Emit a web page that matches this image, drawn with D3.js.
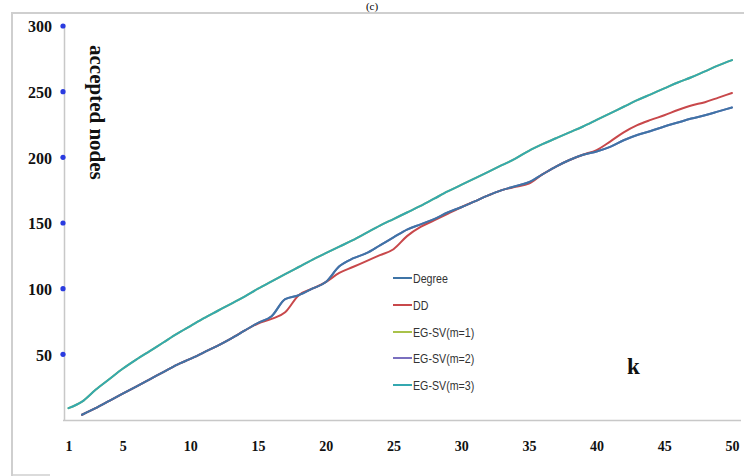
<!DOCTYPE html>
<html><head><meta charset="utf-8">
<script src="https://cdn.jsdelivr.net/npm/d3@7"></script>
<style>
html,body{margin:0;padding:0;background:#fff;}
svg{display:block;}
.tick line{display:none;}
</style></head>
<body><svg id="c" width="744" height="476"></svg>
<script>
const kValues = d3.range(1, 51);
const xTicks = [1, 5, 10, 15, 20, 25, 30, 35, 40, 45, 50];
const yTicks = [50, 100, 150, 200, 250, 300];
const seriesNames = ["Degree", "DD", "EG-SV(m=1)", "EG-SV(m=2)", "EG-SV(m=3)"];
const seriesColors = ["#3f74a6", "#c8484b", "#a9c24a", "#7a6fbf", "#34a8b0"];

// values for k = 1..50 (null = no point)
const degree = [null, 4, 9, 14.5, 20, 25.5, 31, 36.5, 42, 46.5, 51.5, 56.5, 62, 68, 74, 79, 92, 95, 100, 105,
  117, 123, 127, 133, 139, 145, 149, 153, 158, 162, 166.5, 171, 175, 178, 181, 187, 193, 198, 202, 204.5,
  208, 213, 217, 220, 223.5, 226.5, 229.5, 232, 235, 238];
const dd = [null, 4, 9, 14.5, 20, 25.5, 31, 36.5, 42, 46.5, 51.5, 56.5, 62, 68, 73.5, 77, 82, 95, 100, 105,
  112, 116.5, 121, 125.5, 130, 140, 147, 152, 157, 162, 166.5, 171, 175, 177.5, 180, 187, 193, 198, 202, 205.5,
  212, 219, 224.5, 228.5, 232, 236, 239.5, 242, 245.5, 249];
const egsv1 = [9, 14, 23, 31, 39, 46, 52.5, 59, 65.5, 71.5, 77.5, 83, 88.5, 94, 100, 105.5, 111, 116.5, 122, 127,
  132, 137, 142.5, 148, 153, 158, 163, 168.5, 174, 179, 184, 189, 194, 199, 205, 210, 214.5, 219, 223.5, 228.5,
  233.5, 238.5, 243.5, 248, 252.5, 257, 261, 265.5, 270, 274];
const egsv2 = [null, 4, 9, 14.5, 20, 25.5, 31, 36.5, 42, 46.5, 51.5, 56.5, 62, 68, 74, 79, 92, 95, 100, 105,
  117, 123, 127, 133, 139, 145, 149, 153, 158, 162, 166.5, 171, 175, 178, 181, 187, 193, 198, 202, 204.5,
  208, 213, 217, 220, 223.5, 226.5, 229.5, 232, 235, 238];
const egsv3 = [9, 14, 23, 31, 39, 46, 52.5, 59, 65.5, 71.5, 77.5, 83, 88.5, 94, 100, 105.5, 111, 116.5, 122, 127,
  132, 137, 142.5, 148, 153, 158, 163, 168.5, 174, 179, 184, 189, 194, 199, 205, 210, 214.5, 219, 223.5, 228.5,
  233.5, 238.5, 243.5, 248, 252.5, 257, 261, 265.5, 270, 274];

const allSeries = [degree, dd, egsv1, egsv2, egsv3];
const drawOrder = [2, 4, 3, 1, 0];

const svg = d3.select("#c");
const x = d3.scaleLinear().domain([1, 50]).range([68.5, 732]);
const y = d3.scaleLinear().domain([0, 300]).range([420, 26]);

// outer frame (partially cropped)
svg.append("path").attr("d", "M12,476 L12,13 L744,13").attr("fill", "none")
  .attr("stroke", "#cfcfcf").attr("stroke-width", 2);
svg.append("line").attr("x1", 12).attr("x2", 50).attr("y1", 475).attr("y2", 475)
  .attr("stroke", "#cfcfcf").attr("stroke-width", 1.5);

// title
svg.append("text").attr("x", 372).attr("y", 10).attr("text-anchor", "middle")
  .attr("font-family", "Liberation Serif, serif").attr("font-size", 11).text("(c)");

// axis lines
svg.append("line").attr("x1", 64.5).attr("x2", 64.5).attr("y1", 24).attr("y2", 421)
  .attr("stroke", "#c8c8c8").attr("stroke-width", 1.5);
svg.append("line").attr("x1", 63).attr("x2", 741).attr("y1", 420.5).attr("y2", 420.5)
  .attr("stroke", "#c8c8c8").attr("stroke-width", 1.5);

// y axis labels + blue dots
const yAxis = d3.axisLeft(y).tickValues(yTicks).tickSize(0).tickPadding(0);
const gy = svg.append("g").attr("transform", "translate(52,0)").call(yAxis);
gy.select(".domain").remove();
gy.selectAll("text").attr("font-family", "Liberation Serif, serif").attr("font-weight", "bold")
  .attr("font-size", 16).attr("fill", "#111").attr("dy", "0.36em");
svg.append("g").selectAll("circle").data(yTicks).join("circle")
  .attr("cx", 63).attr("cy", d => y(d)).attr("r", 2.6).attr("fill", "#2a3be0");

// x axis labels
const xAxis = d3.axisBottom(x).tickValues(xTicks).tickSize(0).tickPadding(0);
const gx = svg.append("g").attr("transform", "translate(0,441)").call(xAxis);
gx.select(".domain").remove();
gx.selectAll("text").attr("font-family", "Liberation Serif, serif").attr("font-weight", "bold")
  .attr("font-size", 14).attr("fill", "#111").attr("dy", "0.7em");

// lines
const line = d3.line()
  .defined(d => d[1] !== null)
  .x(d => x(d[0])).y(d => y(d[1]))
  .curve(d3.curveMonotoneX);
drawOrder.forEach(i => {
  svg.append("path")
    .datum(kValues.map((k, j) => [k, allSeries[i][j]]))
    .attr("fill", "none").attr("stroke", seriesColors[i])
    .attr("stroke-width", 2).attr("stroke-linejoin", "round").attr("stroke-linecap", "round")
    .attr("d", line);
});

// legend
const legY = [278, 305, 332, 358, 385];
const leg = svg.append("g");
seriesNames.forEach((name, i) => {
  leg.append("line").attr("x1", 393).attr("x2", 412).attr("y1", legY[i]).attr("y2", legY[i])
    .attr("stroke", seriesColors[i]).attr("stroke-width", 2);
  leg.append("text").attr("transform", `translate(413,${legY[i]}) scale(0.82,1)`).attr("dy", "0.35em")
    .attr("font-family", "Liberation Sans, Arial, sans-serif")
    .attr("font-size", 13).attr("fill", "#333").text(name);
});

// axis titles
svg.append("text").attr("transform", "translate(90,45) rotate(90)")
  .attr("font-family", "Liberation Serif, serif").attr("font-weight", "bold")
  .attr("font-size", 21).attr("fill", "#111").text("accepted nodes");
svg.append("text").attr("x", 627).attr("y", 374)
  .attr("font-family", "Liberation Serif, serif").attr("font-weight", "bold")
  .attr("font-size", 23).attr("fill", "#111").text("k");
</script></body></html>
